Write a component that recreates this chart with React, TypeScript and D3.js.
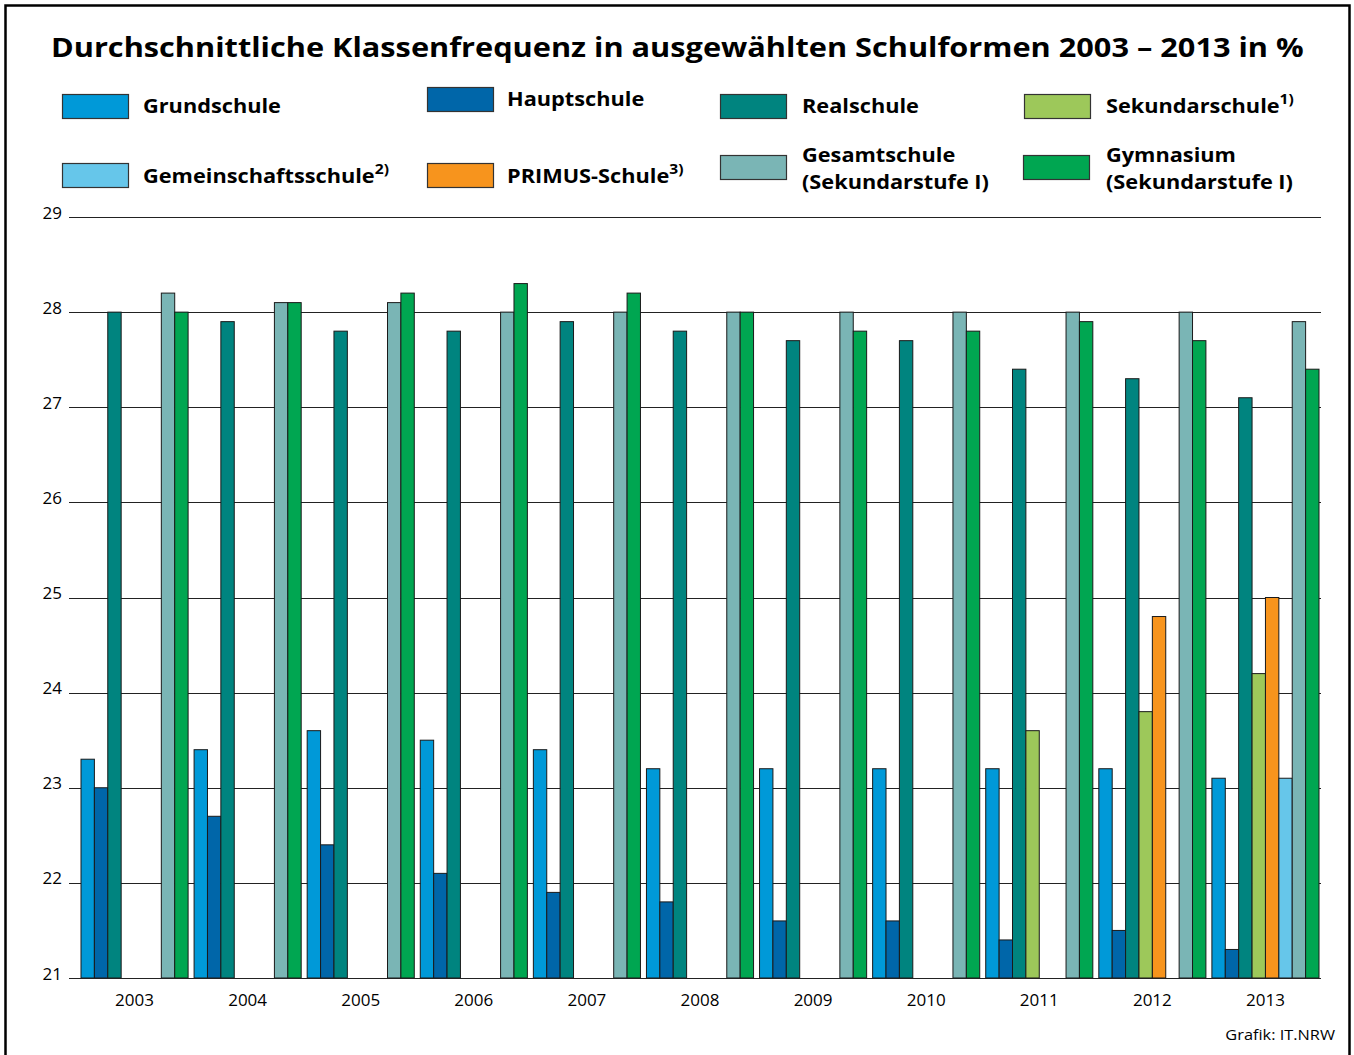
import React from "react";
import * as d3 from "d3";

const years = ["2003","2004","2005","2006","2007","2008","2009","2010","2011","2012","2013"];
const seriesNames = ["Grundschule","Hauptschule","Realschule","Sekundarschule","PRIMUS-Schule","Gemeinschaftsschule","Gesamtschule","Gymnasium"];
const seriesColors = ["#0099d8","#0066a9","#00847f","#9dc85a","#f7941d","#66c6ea","#7ab5b5","#00a651"];

const grundschule = [23.3,23.4,23.6,23.5,23.4,23.2,23.2,23.2,23.2,23.2,23.1];
const hauptschule = [23.0,22.7,22.4,22.1,21.9,21.8,21.6,21.6,21.4,21.5,21.3];
const realschule = [28.0,27.9,27.8,27.8,27.9,27.8,27.7,27.7,27.4,27.3,27.1];
const sekundarschule = [null,null,null,null,null,null,null,null,23.6,23.8,24.2];
const primus = [null,null,null,null,null,null,null,null,null,24.8,25.0];
const gemeinschaftsschule = [null,null,null,null,null,null,null,null,null,null,23.1];
const gesamtschule = [28.2,28.1,28.1,28.0,28.0,28.0,28.0,28.0,28.0,28.0,27.9];
const gymnasium = [28.0,28.1,28.2,28.3,28.2,28.0,27.8,27.8,27.9,27.7,27.4];

const yTicks = [21,22,23,24,25,26,27,28,29];

const allSeries: (number | null)[][] = [grundschule,hauptschule,realschule,sekundarschule,primus,gemeinschaftsschule,gesamtschule,gymnasium];

const W = 1354, H = 1055;
const FONT = "'Open Sans', 'DejaVu Sans', sans-serif";
const WIDE = 1.115;

export default function App() {
  const x0 = d3.scaleBand<string>().domain(years).range([81, 1319]).paddingInner(0.053).paddingOuter(0);
  const x1 = d3.scaleBand<string>().domain(seriesNames).range([0, x0.bandwidth()]).padding(0);
  const y = d3.scaleLinear().domain([21, 29]).range([978, 217]);

  const legend = [
    { i: 0, bx: 62, by: 94, tx: 143, lines: ["Grundschule"], sup: null, ty: 113 },
    { i: 1, bx: 427, by: 87, tx: 507, lines: ["Hauptschule"], sup: null, ty: 106 },
    { i: 2, bx: 720, by: 94, tx: 802, lines: ["Realschule"], sup: null, ty: 113 },
    { i: 3, bx: 1024, by: 94, tx: 1106, lines: ["Sekundarschule"], sup: "1)", ty: 113 },
    { i: 5, bx: 62, by: 163, tx: 143, lines: ["Gemeinschaftsschule"], sup: "2)", ty: 183 },
    { i: 4, bx: 427, by: 163, tx: 507, lines: ["PRIMUS-Schule"], sup: "3)", ty: 183 },
    { i: 6, bx: 720, by: 155, tx: 802, lines: ["Gesamtschule", "(Sekundarstufe I)"], sup: null, ty: 162 },
    { i: 7, bx: 1023, by: 155, tx: 1106, lines: ["Gymnasium", "(Sekundarstufe I)"], sup: null, ty: 162 },
  ];

  return (
    <svg width={W} height={H} style={{ position: "absolute", left: 0, top: 0, display: "block" }} fontFamily={FONT}>
      <rect x={0} y={0} width={W} height={H} fill="#fff" />
      <rect x={5.5} y={5.5} width={1344} height={1060} fill="none" stroke="#000" strokeWidth={2.5} />
      <text transform={`translate(51,57) scale(${1252 / 1121},1)`} fontSize={27.5} fontWeight={700} fill="#000">
        Durchschnittliche Klassenfrequenz in ausgewählten Schulformen 2003 – 2013 in %
      </text>

      {legend.map((l) => (
        <g key={l.i}>
          <rect x={l.bx + 0.5} y={l.by + 0.5} width={66} height={24} fill={seriesColors[l.i]} stroke="#333" strokeWidth={1.2} />
          {l.lines.map((ln, k) => (
            <text key={k} transform={`translate(${l.tx},${l.ty + k * 27}) scale(${WIDE},1)`} fontSize={19.5} fontWeight={700} fill="#000">
              {ln}
              {l.sup && k === 0 ? <tspan dy={-9} fontSize={14}>{l.sup}</tspan> : null}
            </text>
          ))}
        </g>
      ))}

      {yTicks.map((t) => (
        <g key={t}>
          <line x1={69} x2={1321} y1={Math.round(y(t)) + 0.5} y2={Math.round(y(t)) + 0.5} stroke="#222" strokeWidth={1.1} />
          <text x={62} y={y(t) + 1.5} fontSize={17} textAnchor="end" fill="#000">{t}</text>
        </g>
      ))}

      {years.map((yr, yi) => (
        <g key={yr} transform={`translate(${x0(yr)},0)`}>
          {seriesNames.map((s, si) => {
            const v = allSeries[si][yi];
            if (v == null) return null;
            return (
              <rect key={s} x={x1(s)} y={y(v)} width={x1.bandwidth()} height={y(21) - y(v)}
                fill={seriesColors[si]} stroke="#1a1a1a" strokeWidth={1} />
            );
          })}
          <text x={x0.bandwidth() / 2} y={1006} fontSize={17} textAnchor="middle" fill="#000">{yr}</text>
        </g>
      ))}
      <line x1={69} x2={1321} y1={978.5} y2={978.5} stroke="#222" strokeWidth={1.2} />

      <text transform="translate(1335,1040) scale(1.09,1)" fontSize={15} textAnchor="end" fill="#000">Grafik: IT.NRW</text>
    </svg>
  );
}
